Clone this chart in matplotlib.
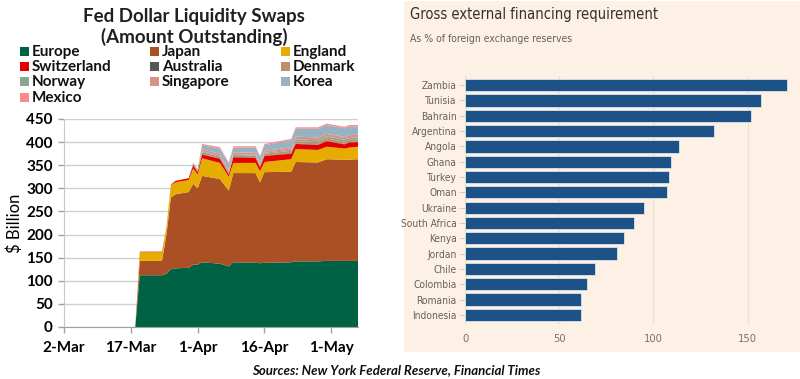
import numpy as np
import pandas as pd
import matplotlib
matplotlib.use("Agg")
import matplotlib.pyplot as plt
import matplotlib.dates as mdates
from matplotlib.patches import Rectangle

# ---- left chart: Fed swap lines outstanding ($ billion)
dates = pd.to_datetime([
    "2020-03-18", "2020-03-19", "2020-03-24", "2020-03-25", "2020-03-26", "2020-03-27",
    "2020-03-30", "2020-03-31", "2020-04-01", "2020-04-02", "2020-04-06", "2020-04-08",
    "2020-04-09", "2020-04-14", "2020-04-15", "2020-04-16", "2020-04-22", "2020-04-23",
    "2020-04-28", "2020-04-30", "2020-05-04", "2020-05-05", "2020-05-07"])

europe = [0, 112, 112, 115, 125, 127, 128, 135, 135, 140, 137, 131, 140, 139, 138, 139, 140, 142, 142, 143, 143, 143, 143]
japan = [0, 31, 31, 85, 155, 160, 164, 175, 165, 187, 183, 164, 193, 194, 175, 196, 196, 215, 214, 220, 219, 219, 220]
england = [0, 19, 19, 15, 27, 26, 26, 33, 30, 38, 35, 30, 22, 22, 24, 22, 27, 28, 27, 27, 24, 26, 27]
switzerland = [0, 1, 1, 1, 1, 3, 4, 7, 5, 8, 9, 5, 12, 11, 8, 13, 12, 11, 11, 12, 9, 11, 10]
australia = [0, 0, 0, 0, 0, 0, 0, 1, 1, 1, 1, 1, 1, 1, 1, 1, 1, 1, 1, 1, 1, 1, 1]
denmark = [0, 0, 0, 0, 0, 0, 0, 2, 2, 4, 4, 4, 4, 4, 4, 4, 5, 5, 5, 5, 5, 5, 5]
norway = [0, 0, 0, 0, 0, 0, 0, 0, 0, 2, 2, 2, 2, 2, 2, 2, 3, 4, 4, 4, 4, 4, 4]
singapore = [0, 0, 0, 0, 0, 0, 0, 2, 2, 4, 4, 4, 4, 4, 4, 4, 5, 6, 6, 6, 6, 6, 6]
korea = [0, 0, 0, 0, 0, 0, 0, 1, 1, 9, 11, 12, 10, 11, 11, 12, 15, 17, 19, 19, 19, 19, 18]
mexico = [0, 0, 0, 0, 0, 0, 0, 0, 0, 3, 3, 3, 3, 3, 3, 3, 3, 3, 3, 3, 3, 3, 3]

series_names = ["Europe", "Japan", "England", "Switzerland", "Australia",
                "Denmark", "Norway", "Singapore", "Korea", "Mexico"]
series_vals = [europe, japan, england, switzerland, australia,
               denmark, norway, singapore, korea, mexico]
series_colors = ["#006244", "#ab4f24", "#e6ad00", "#e50000", "#575757",
                 "#bf8f6c", "#8aa592", "#d9928a", "#95b3c3", "#fb8a8a"]

xtick_dates = pd.to_datetime(["2020-03-02", "2020-03-17", "2020-04-01", "2020-04-16", "2020-05-01"])
xtick_labels = ["2-Mar", "17-Mar", "1-Apr", "16-Apr", "1-May"]

# ---- right chart: gross external financing requirement (% of FX reserves)
countries = ["Zambia", "Tunisia", "Bahrain", "Argentina", "Angola", "Ghana", "Turkey", "Oman",
             "Ukraine", "South Africa", "Kenya", "Jordan", "Chile", "Colombia", "Romania", "Indonesia"]
pct_reserves = [171, 157, 152, 132, 113.5, 109.3, 108.2, 107, 95, 89.8, 84.3, 80.6, 69, 65, 61.5, 61.5]

W, H = 800, 379
fig = plt.figure(figsize=(W / 100, H / 100), dpi=100)
fig.patch.set_facecolor("white")

def fx(px):
    return px / W

def fy(py):
    return 1 - py / H

lato = ["Lato", "DejaVu Sans"]
cond = dict(family="DejaVu Sans", stretch="condensed")

# right panel background (behind everything)
fig.patches.append(Rectangle((fx(404), fy(352)), fx(800) - fx(404), fy(1) - fy(352),
                             transform=fig.transFigure, facecolor="#fdf1e6", edgecolor="none", zorder=-5))

# left area chart
ax = fig.add_axes([fx(64), fy(327), fx(358) - fx(64), fy(119) - fy(327)])
x = mdates.date2num(dates)
ax.stackplot(x, *series_vals, colors=series_colors, linewidth=0)
ax.set_xlim(mdates.date2num(pd.Timestamp("2020-03-02")), mdates.date2num(pd.Timestamp("2020-05-07")))
ax.set_ylim(0, 450)
ax.set_yticks(np.arange(0, 451, 50))
ax.yaxis.grid(True, color="#cfcfcf", linewidth=1)
ax.set_axisbelow(True)
ax.set_xticks(mdates.date2num(xtick_dates))
ax.set_xticklabels(xtick_labels)
for lab in ax.get_xticklabels() + ax.get_yticklabels():
    lab.set_family(lato)
    lab.set_fontweight("bold")
    lab.set_fontsize(11)
ax.tick_params(axis="both", colors="#a0a0a0", length=4, width=1, labelcolor="black")
ax.tick_params(axis="x", pad=6)
ax.tick_params(axis="y", pad=4)
for s in ["top", "right"]:
    ax.spines[s].set_visible(False)
ax.spines["left"].set_color("#c8c8c8")
ax.spines["bottom"].set_color("#a0a0a0")
ax.set_ylabel("$ Billion", family=lato, fontsize=12, labelpad=2)

fig.text(fx(194), fy(27), "Fed Dollar Liquidity Swaps\n(Amount Outstanding)",
         ha="center", va="center", family=lato, fontweight="bold", fontsize=13.5,
         color="#202020", linespacing=1.15)

# legend laid out row by row in three columns
col_x = [20, 150, 281]
row_y = [52, 67, 82, 98]
for i, (name, col) in enumerate(zip(series_names, series_colors)):
    r, c = divmod(i, 3)
    fig.patches.append(Rectangle((fx(col_x[c]), fy(row_y[r] + 4)), fx(9), fy(0) - fy(9),
                                 transform=fig.transFigure, facecolor=col, edgecolor="none"))
    fig.text(fx(col_x[c] + 12), fy(row_y[r]), name, ha="left", va="center",
             family=lato, fontweight="bold", fontsize=11, color="#111111")

# right bar chart
ax2 = fig.add_axes([fx(465), fy(324), fx(789) - fx(465), fy(76) - fy(324)])
ax2.set_facecolor("none")
ypos = np.arange(len(countries))
ax2.barh(ypos, pct_reserves, height=0.8, color="#1d5289", edgecolor="#dfe3e8", linewidth=0.6)
ax2.set_ylim(len(countries) - 0.4, -0.6)
ax2.set_xlim(0, 172)
ax2.set_yticks(ypos)
ax2.set_yticklabels(countries)
ax2.set_xticks([0, 50, 100, 150])
ax2.xaxis.grid(True, color="#eadfd4", linewidth=1)
ax2.set_axisbelow(True)
for s in ax2.spines.values():
    s.set_visible(False)
ax2.tick_params(axis="y", length=4, color="#d8cfc6", labelcolor="#66605c", labelsize=7.3, pad=2)
ax2.tick_params(axis="x", length=0, labelcolor="#77706b", labelsize=8, pad=7)
for lab in ax2.get_xticklabels() + ax2.get_yticklabels():
    lab.set_family("DejaVu Sans")
    lab.set_stretch("condensed")

fig.text(fx(410), fy(15), "Gross external financing requirement", ha="left", va="center",
         fontsize=10.5, color="#33302e", **cond)
fig.text(fx(410), fy(39), "As % of foreign exchange reserves", ha="left", va="center",
         fontsize=7.5, color="#66605c", **cond)

fig.text(fx(396), fy(370), "Sources: New York Federal Reserve, Financial Times",
         ha="center", va="center", family=lato, fontweight="bold", style="italic",
         fontsize=9.5, color="#111111")

fig.savefig("out.png", dpi=100, facecolor="white")
